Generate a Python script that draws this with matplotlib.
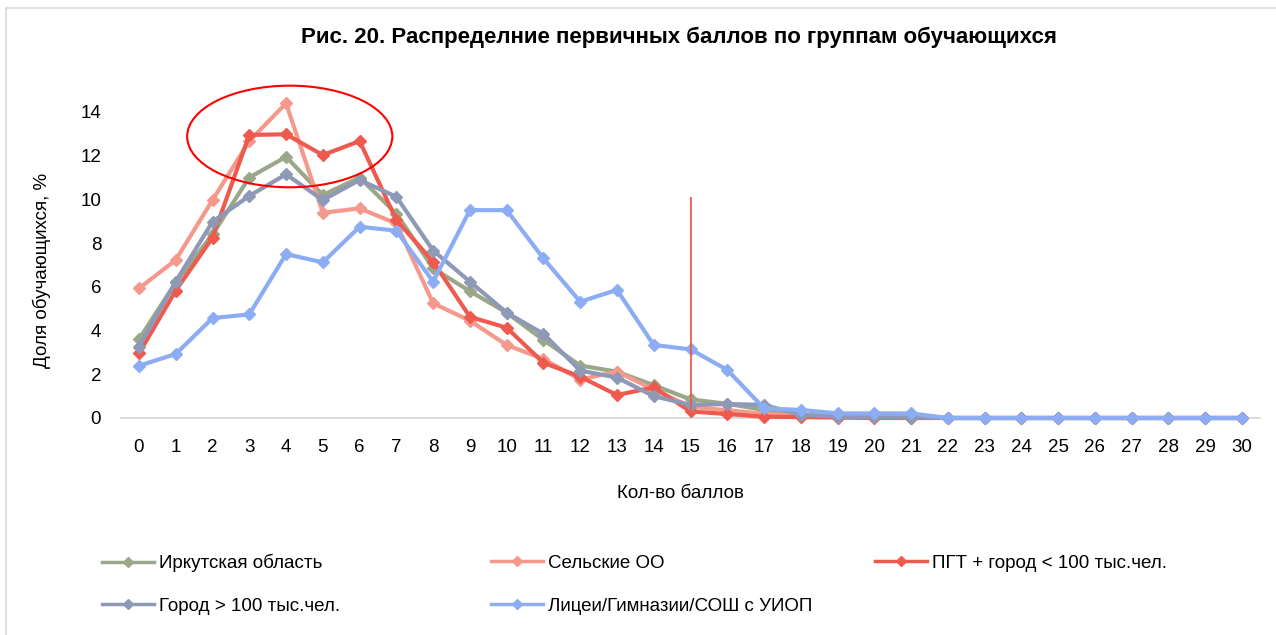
import matplotlib
matplotlib.use("Agg")
import matplotlib.pyplot as plt
from matplotlib.patches import Ellipse, Rectangle
from matplotlib import font_manager

# ---- data ----
scores = list(range(0, 31))
irkutsk = [3.6, 6.2, 8.4, 11.0, 11.95, 10.2, 11.0, 9.35, 6.85, 5.8, 4.82, 3.57, 2.4, 2.12, 1.5,
           0.85, 0.65, 0.37, 0.15, 0.08, 0.04, 0.02, 0, 0, 0, 0, 0, 0, 0, 0, 0]
rural = [5.93, 7.23, 9.97, 12.67, 14.4, 9.39, 9.59, 8.9, 5.25, 4.45, 3.34, 2.7, 1.76, 2.12, 1.3,
         0.52, 0.35, 0.2, 0.1, 0.05, 0.03, 0.03, 0, 0, 0, 0, 0, 0, 0, 0, 0]
pgt = [2.96, 5.83, 8.25, 12.95, 12.98, 12.03, 12.67, 9.06, 7.15, 4.63, 4.13, 2.53, 1.89, 1.05, 1.4,
       0.3, 0.18, 0.06, 0.04, 0.02, 0.0, 0.0, 0, 0, 0, 0, 0, 0, 0, 0, 0]
city = [3.26, 6.24, 8.98, 10.16, 11.15, 9.97, 10.89, 10.12, 7.66, 6.24, 4.82, 3.85, 2.17, 1.85, 1.0,
        0.6, 0.64, 0.6, 0.14, 0.06, 0.03, 0.02, 0, 0, 0, 0, 0, 0, 0, 0, 0]
lyceum = [2.39, 2.93, 4.57, 4.74, 7.5, 7.12, 8.75, 8.57, 6.24, 9.51, 9.51, 7.3, 5.32, 5.86, 3.34,
          3.14, 2.2, 0.44, 0.37, 0.21, 0.21, 0.21, 0, 0, 0, 0, 0, 0, 0, 0, 0]
series_names = ["Иркутская область", "Сельские ОО", "ПГТ + город < 100 тыс.чел.",
                "Город > 100 тыс.чел.", "Лицеи/Гимназии/СОШ с УИОП"]
yticks = [0, 2, 4, 6, 8, 10, 12, 14]
threshold_x = 15
threshold_top = 10.1
highlight_center = (4.1, 12.88)
highlight_size = (5.58, 4.65)

title = "Рис. 20. Распределние первичных баллов по группам обучающихся"
xlabel = "Кол-во баллов"
ylabel = "Доля обучающихся, %"

colors = ["#9AA889", "#F5998C", "#EE5B4E", "#8E99B7", "#8CACF4"]

# ---- font ----
avail = {f.name for f in font_manager.fontManager.ttflist}
fam = "Liberation Sans Narrow" if "Liberation Sans Narrow" in avail else "Liberation Sans"
plt.rcParams['font.family'] = [fam, "DejaVu Sans"]

W, H = 1276, 635
fig = plt.figure(figsize=(W / 100, H / 100), dpi=100)
fig.patch.set_facecolor("white")

# border
fig.add_artist(Rectangle((6 / W, -0.05), 1.2, (1 - 8 / H) + 0.05, transform=fig.transFigure,
                         fill=False, edgecolor="#D9D9D9", linewidth=1.2))

left, right, bottom_px, top_px = 120.6, 1260.4, 418, 112
ax = fig.add_axes([left / W, (H - bottom_px) / H, (right - left) / W, (bottom_px - top_px) / H])
ax.set_xlim(-0.5, 30.5)
ax.set_ylim(0, 14)

handles = []
for data, name, c in zip([irkutsk, rural, pgt, city, lyceum], series_names, colors):
    h, = ax.plot(scores, data, color=c, linewidth=3.0, marker="D", markersize=6.5,
                 markeredgecolor=c, markerfacecolor=c, label=name, solid_joinstyle="round",
                 clip_on=False, zorder=3)
    handles.append(h)

ax.vlines(threshold_x, 0, threshold_top, color="#EE5B4E", linewidth=1.3, zorder=4)
ax.add_patch(Ellipse(highlight_center, highlight_size[0], highlight_size[1], fill=False,
                     edgecolor="#FF0000", linewidth=1.5, clip_on=False, zorder=5))

for s in ["top", "right", "left"]:
    ax.spines[s].set_visible(False)
ax.spines["bottom"].set_color("#D9D9D9")
ax.spines["bottom"].set_linewidth(1.3)
ax.set_xticks(scores)
ax.set_xticklabels([str(v) for v in scores])
ax.set_yticks(yticks)
ax.tick_params(axis="both", length=0, labelsize=13.5)
ax.tick_params(axis="x", pad=15)
ax.tick_params(axis="y", pad=14)

fig.text(679 / W, 1 - 37 / H, title, ha="center", va="center", fontsize=16, fontweight="bold")
fig.text(680 / W, 1 - 494 / H, xlabel, ha="center", va="center", fontsize=13.5)
fig.text(42 / W, 1 - 270 / H, ylabel, ha="center", va="center", fontsize=13.5, rotation=90)

# legend entries placed individually: (series index, line-start x px, center y px)
legend_pos = [(0, 96, 563), (1, 485, 563), (2, 869, 563), (3, 96, 606), (4, 485, 606)]
for idx, xp, yp in legend_pos:
    lg = fig.legend([handles[idx]], [series_names[idx]], loc="center left",
                    bbox_to_anchor=(xp / W, 1 - yp / H), frameon=False, fontsize=13.5,
                    handlelength=2.8, handletextpad=0.25, borderpad=0.0, borderaxespad=0.3,
                    markerscale=0.85)
    for line in lg.get_lines():
        line.set_linewidth(2.5)

fig.savefig("out.png", dpi=100, facecolor="white")
